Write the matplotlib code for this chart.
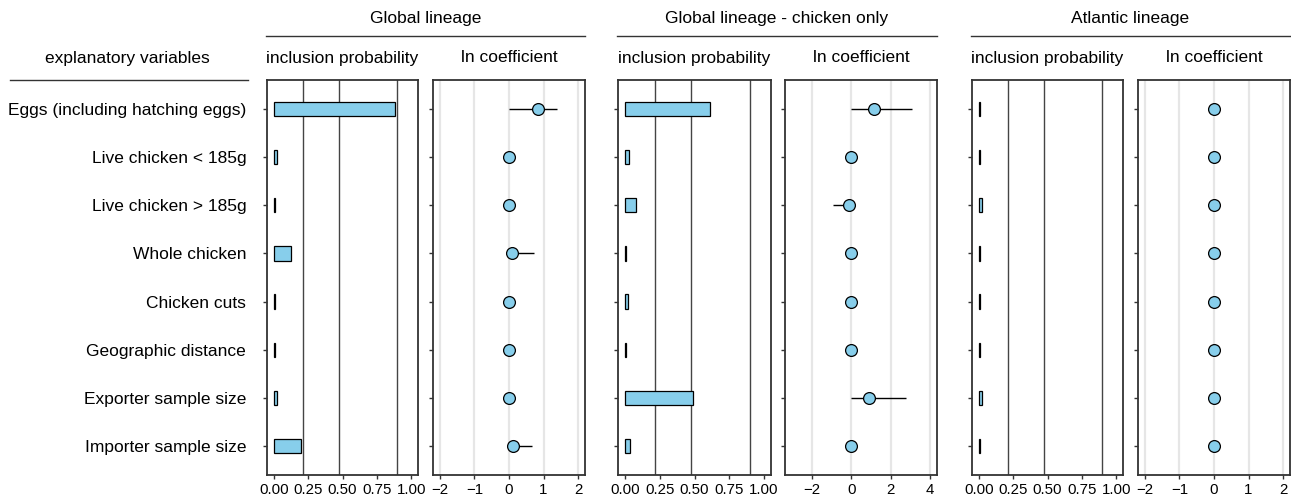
import numpy as np
import matplotlib
matplotlib.use("Agg")
import matplotlib.pyplot as plt
from matplotlib.lines import Line2D

plt.rcParams['font.family'] = ['Liberation Sans', 'DejaVu Sans']
plt.rcParams['font.size'] = 12.5

# 数据
variables = ["Eggs (including hatching eggs)", "Live chicken < 185g", "Live chicken > 185g",
             "Whole chicken", "Chicken cuts", "Geographic distance",
             "Exporter sample size", "Importer sample size"]

groups = ["Global lineage", "Global lineage - chicken only", "Atlantic lineage"]

# inclusion probability
incl_global = [0.885, 0.02, 0.005, 0.125, 0.005, 0.005, 0.025, 0.20]
incl_chicken = [0.61, 0.026, 0.077, 0.005, 0.02, 0.005, 0.49, 0.036]
incl_atlantic = [0.005, 0.01, 0.02, 0.005, 0.005, 0.005, 0.02, 0.005]

# ln coefficient (mean, lower, upper)
coef_global = [0.83, 0.0, 0.0, 0.08, 0.0, 0.0, 0.0, 0.11]
lo_global = [0.0, 0.0, 0.0, 0.0, 0.0, 0.0, 0.0, 0.0]
hi_global = [1.40, 0.0, 0.0, 0.73, 0.0, 0.0, 0.0, 0.67]

coef_chicken = [1.14, 0.0, -0.12, 0.0, 0.0, 0.0, 0.88, 0.0]
lo_chicken = [0.0, 0.0, -0.94, 0.0, 0.0, 0.0, 0.0, 0.0]
hi_chicken = [3.06, 0.0, 0.0, 0.0, 0.0, 0.0, 2.80, 0.0]

coef_atlantic = [0.0] * 8
lo_atlantic = [0.0] * 8
hi_atlantic = [0.0] * 8

# Bayes factor 阈值线
bf_lines = [0.215, 0.475, 0.90]

coef_ticks = [[-2, -1, 0, 1, 2], [-2, 0, 2, 4], [-2, -1, 0, 1, 2]]
coef_lims = [(-2.2, 2.2), (-3.35, 4.35), (-2.2, 2.2)]

incl_all = [incl_global, incl_chicken, incl_atlantic]
coef_all = [(coef_global, lo_global, hi_global),
            (coef_chicken, lo_chicken, hi_chicken),
            (coef_atlantic, lo_atlantic, hi_atlantic)]

W, H = 1291, 499
fig = plt.figure(figsize=(W / 100, H / 100), dpi=100)

panel_x = [(267, 418), (433, 585), (618, 771), (785, 937), (972, 1123), (1138, 1290)]
top_px, bot_px = 80, 475
fill = '#87CEEB'
frame = '#333333'

ypos = np.arange(1, len(variables) + 1)


def px_axes(x0, x1):
    return fig.add_axes([x0 / W, 1 - bot_px / H, (x1 - x0) / W, (bot_px - top_px) / H])


def style(ax):
    for s in ax.spines.values():
        s.set_color(frame)
        s.set_linewidth(1.3)
    ax.set_ylim(8.6, 0.4)
    ax.set_yticks(ypos)
    ax.tick_params(axis='both', length=3, width=1, color=frame)
    ax.tick_params(axis='y', labelsize=12.5)
    ax.tick_params(axis='x', pad=3, labelsize=10.8)


for g in range(3):
    # inclusion probability
    x0, x1 = panel_x[2 * g]
    ax = px_axes(x0, x1)
    style(ax)
    for v in bf_lines:
        ax.axvline(v, color='#444444', lw=1.0, zorder=1)
    ax.barh(ypos, incl_all[g], height=0.3, left=0, color=fill,
            edgecolor='black', linewidth=0.9, zorder=2)
    ax.set_xlim(-0.05, 1.05)
    ax.set_xticks([0, 0.25, 0.5, 0.75, 1.0])
    ax.set_xticklabels(['0.00', '0.25', '0.50', '0.75', '1.00'])
    if g == 0:
        ax.set_yticklabels(variables)
        ax.tick_params(axis='y', pad=12)
    else:
        ax.set_yticklabels([])
    fig.text((x0 + x1) / 2 / W, 1 - 58 / H, "inclusion probability",
             ha='center', va='center')

    # ln coefficient
    x0, x1 = panel_x[2 * g + 1]
    ax = px_axes(x0, x1)
    style(ax)
    mean, lo, hi = coef_all[g]
    for t in coef_ticks[g]:
        ax.axvline(t, color='#e6e6e6', lw=1.6, zorder=0)
    ax.hlines(ypos, lo, hi, color='black', lw=1.0, zorder=2)
    ax.plot(mean, ypos, 'o', ms=8.5, mfc=fill, mec='black', mew=0.9, zorder=3)
    ax.set_xlim(*coef_lims[g])
    ax.set_xticks(coef_ticks[g])
    ax.set_xticklabels([str(t).replace('-', '\u2212') for t in coef_ticks[g]])
    ax.set_yticklabels([])
    fig.text((x0 + x1) / 2 / W, 1 - 58 / H, "ln coefficient",
             ha='center', va='center')

    # 分组标题与横线
    gx0, gx1 = panel_x[2 * g][0] - 1, panel_x[2 * g + 1][1]
    fig.text((gx0 + gx1) / 2 / W, 1 - 19 / H, groups[g], ha='center', va='center')
    fig.add_artist(Line2D([gx0 / W, gx1 / W], [1 - 36 / H, 1 - 36 / H],
                          color='#333333', lw=1.0))

fig.text(127 / W, 1 - 58 / H, "explanatory variables", ha='center', va='center')
fig.add_artist(Line2D([10 / W, 248 / W], [1 - 80 / H, 1 - 80 / H], color='#333333', lw=1.0))

fig.savefig('out.png', dpi=100)
